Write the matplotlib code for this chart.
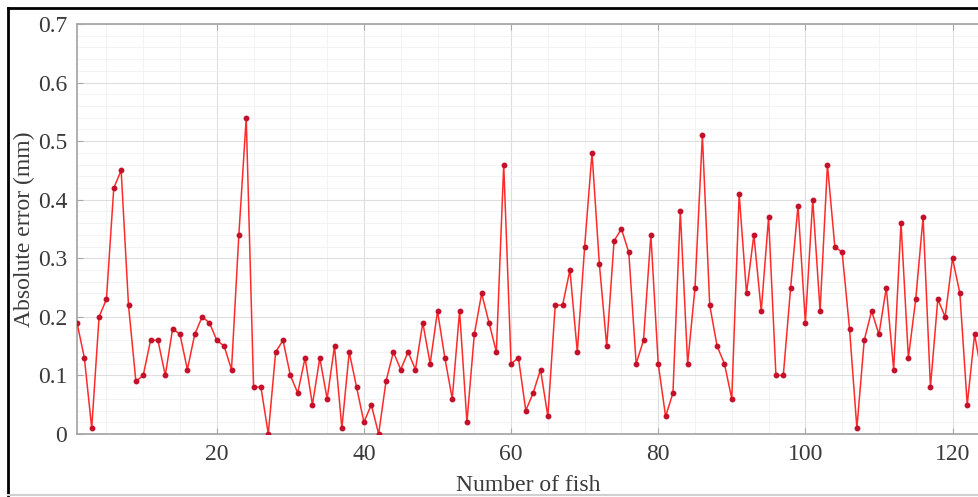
import numpy as np
import matplotlib
matplotlib.use("Agg")
import matplotlib.pyplot as plt
from matplotlib.lines import Line2D
from matplotlib.ticker import MultipleLocator

# absolute error per fish (mm)
abs_error = [
    0.19, 0.13, 0.01, 0.20, 0.23, 0.42, 0.45, 0.22, 0.09, 0.10,
    0.16, 0.16, 0.10, 0.18, 0.17, 0.11, 0.17, 0.20, 0.19, 0.16,
    0.15, 0.11, 0.34, 0.54, 0.08, 0.08, 0.00, 0.14, 0.16, 0.10,
    0.07, 0.13, 0.05, 0.13, 0.06, 0.15, 0.01, 0.14, 0.08, 0.02,
    0.05, 0.00, 0.09, 0.14, 0.11, 0.14, 0.11, 0.19, 0.12, 0.21,
    0.13, 0.06, 0.21, 0.02, 0.17, 0.24, 0.19, 0.14, 0.46, 0.12,
    0.13, 0.04, 0.07, 0.11, 0.03, 0.22, 0.22, 0.28, 0.14, 0.32,
    0.48, 0.29, 0.15, 0.33, 0.35, 0.31, 0.12, 0.16, 0.34, 0.12,
    0.03, 0.07, 0.38, 0.12, 0.25, 0.51, 0.22, 0.15, 0.12, 0.06,
    0.41, 0.24, 0.34, 0.21, 0.37, 0.10, 0.10, 0.25, 0.39, 0.19,
    0.40, 0.21, 0.46, 0.32, 0.31, 0.18, 0.01, 0.16, 0.21, 0.17,
    0.25, 0.11, 0.36, 0.13, 0.23, 0.37, 0.08, 0.23, 0.20, 0.30,
    0.24, 0.05, 0.17, 0.10,
]
fish_no = np.arange(1, len(abs_error) + 1)

x_ticks = [20, 40, 60, 80, 100, 120]
y_ticks = [0, 0.1, 0.2, 0.3, 0.4, 0.5, 0.6, 0.7]
y_tick_labels = ['0', '0.1', '0.2', '0.3', '0.4', '0.5', '0.6', '0.7']

plt.rcParams['font.family'] = ['Liberation Serif', 'DejaVu Serif']

W, H = 979, 497
fig = plt.figure(figsize=(W / 100, H / 100), dpi=100)

# axes box in pixels: left 77, top 24, bottom 434, runs off the right edge
left, top, bottom = 77, 24, 434
ax = fig.add_axes([left / W, 1 - bottom / H, 1 - left / W, (bottom - top) / H])

ax.plot(fish_no, abs_error, color='#ff2b2b', lw=1.1, marker='o', ms=3.2,
        mfc='#c4102a', mec='#c4102a', zorder=3)

ax.set_xlim(1, 123.6)
ax.set_ylim(0, 0.7)
ax.set_xticks(x_ticks)
ax.set_yticks(y_ticks)
ax.set_yticklabels(y_tick_labels)
ax.xaxis.set_minor_locator(MultipleLocator(5))
ax.yaxis.set_minor_locator(MultipleLocator(0.02))

# matlab-ish grid: major + faint minor
ax.grid(which='major', color='#dedede', lw=0.8)
ax.grid(which='minor', color='#f1f1f1', lw=0.6)
ax.set_axisbelow(True)

for side in ['left', 'bottom', 'top']:
    ax.spines[side].set_color('#a8a8a8')
    ax.spines[side].set_linewidth(1.3)
ax.spines['right'].set_visible(False)

ax.tick_params(which='major', direction='in', length=4, width=0.8, color='#a8a8a8',
               top=True, right=False, labelsize=17, labelcolor='#3a3a3a', pad=7)
ax.tick_params(which='minor', length=0, top=True, right=False)

ax.set_xlabel('Number of fish', fontsize=17, color='#3a3a3a')
ax.set_ylabel('Absolute error (mm)', fontsize=17, color='#3a3a3a')
ax.xaxis.set_label_coords(0.5, -0.1)
ax.yaxis.set_label_coords(-0.047, 0.5)

# outer frame of the original screenshot
fig.add_artist(Line2D([8 / W, 1], [1 - 8 / H, 1 - 8 / H], color='black', lw=2,
                      transform=fig.transFigure))
fig.add_artist(Line2D([8 / W, 8 / W], [0, 1 - 8 / H], color='black', lw=2,
                      transform=fig.transFigure))
fig.add_artist(Line2D([8 / W, 1], [2 / H, 2 / H], color='#d0d0d0', lw=1.5,
                      transform=fig.transFigure))

fig.savefig('out.png', dpi=100)
